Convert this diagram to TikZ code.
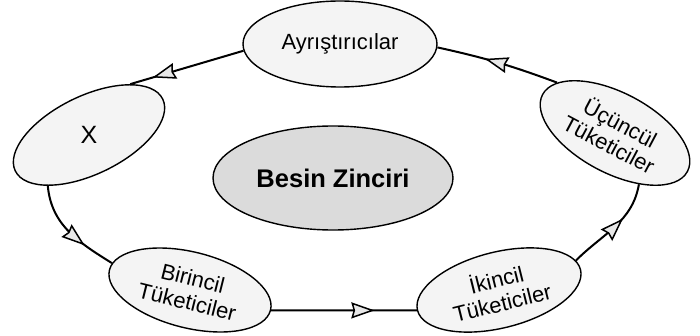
\documentclass[tikz,border=0pt]{standalone}
\usepackage{fontspec}
\setmainfont{Liberation Sans}
\usetikzlibrary{shapes.geometric,decorations.markings}
\begin{document}
\begin{tikzpicture}[x=1pt,y=1pt,
  bubble/.style={ellipse, draw=black, line width=1.4pt, fill=gray!9, inner sep=0pt, align=center,
    font=\fontsize{22}{24}\selectfont},
  flow/.style={line width=2pt, postaction={decorate},
    decoration={markings, mark=at position #1 with {
      \filldraw[fill=gray!18, draw=black, line width=1.5pt, line join=miter]
        (5pt,0pt) -- (-15pt,7pt) -- (-13pt,0pt) -- (-15pt,-7pt) -- cycle;}}},
]
\fill[white] (0,0) rectangle (700,335);
\useasboundingbox (0,0) rectangle (700,335);

\node[bubble, minimum width=194pt, minimum height=86pt] (ayr) at (340,291) {Ayrıştırıcılar};
\node[bubble, minimum width=164pt, minimum height=78pt, rotate=26] (x) at (89,200) {\rotatebox{-26}{\fontsize{25}{27}\selectfont X}};
\node[bubble, minimum width=240pt, minimum height=104pt, fill=gray!28, font=\fontsize{25.5}{28}\selectfont\bfseries] (besin) at (333,157) {Besin Zinciri};
\node[bubble, minimum width=164pt, minimum height=80pt, rotate=-28] (ucu) at (615,202) {Üçüncül\\Tüketiciler};
\node[bubble, minimum width=166pt, minimum height=76pt, rotate=-14] (bir) at (190,45) {Birincil\\Tüketiciler};
\node[bubble, minimum width=168pt, minimum height=76pt, rotate=14] (iki) at (499,45) {İkincil\\Tüketiciler};

\draw[flow=0.74] (ayr.184) -- (x.25);
\draw[flow=0.62] (x.205) to[out=-85,in=148] (bir.175);
\draw[flow=0.66] (bir.0) -- (iki.180);
\draw[flow=0.55] (iki.7) to[out=45,in=-100] (ucu.323);
\draw[flow=0.55] (ucu.167) to[bend right=4] (ayr.358);
\end{tikzpicture}
\end{document}
